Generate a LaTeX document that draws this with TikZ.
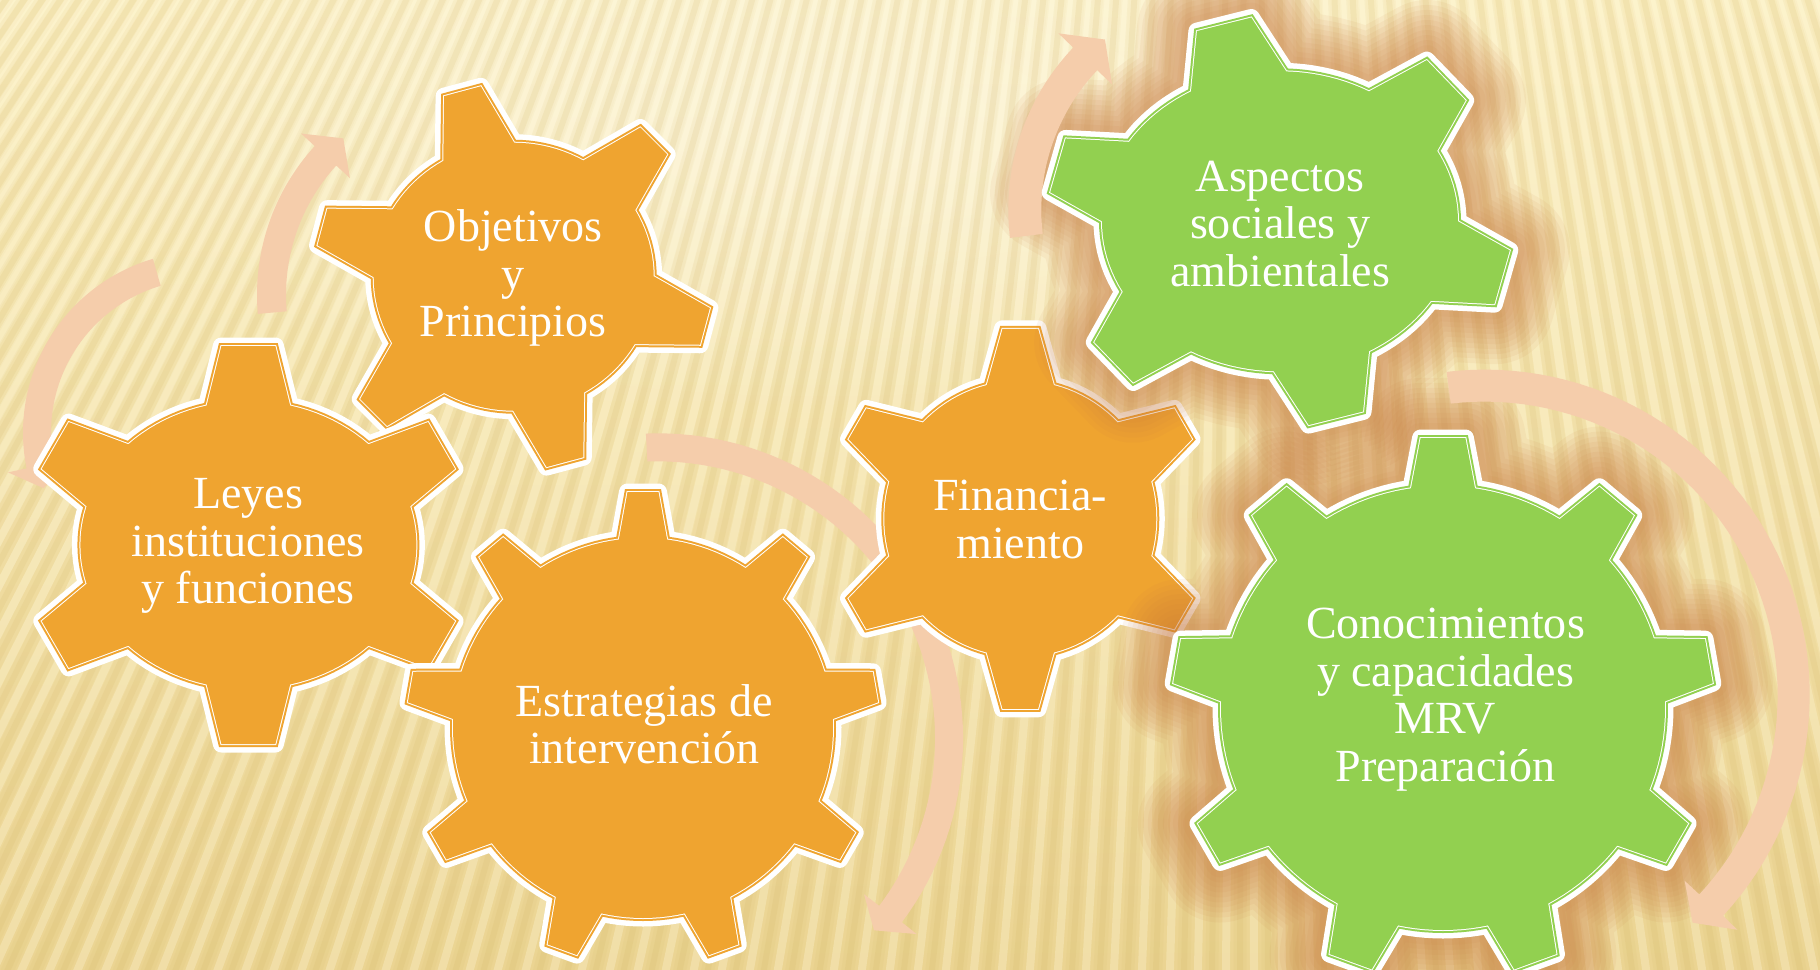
\documentclass[tikz,border=0pt]{standalone}
\usepackage{fontspec}
\setmainfont{Liberation Serif}
\usetikzlibrary{fadings}
\tikzfading[name=softspot, inner color=transparent!0, outer color=transparent!100]
\definecolor{gorange}{HTML}{EFA430}
\definecolor{ggreen}{HTML}{92D050}
\definecolor{arrowc}{HTML}{F5CDAB}
\definecolor{glowc}{HTML}{C97A40}
\definecolor{bgtop}{HTML}{FCF1C6}
\definecolor{bgbot}{HTML}{EBD492}
\definecolor{stripedark}{HTML}{D2B462}
\definecolor{stripelight}{HTML}{FFF8DA}
\newcommand\gfont{\fontsize{13.09pt}{13.5pt}\selectfont}
\tikzset{gtext/.style={text=white, align=center, font=\gfont, inner sep=0pt}}
% gear parameters: cx cy ax ay toothheight n phi0 delta tipwidth
\newcommand\setgear[9]{\def\gcx{#1}\def\gcy{#2}\def\gax{#3}\def\gay{#4}\def\gth{#5}\def\gn{#6}\def\gph{#7}\def\gdl{#8}\def\gtw{#9}}
\newcommand\gearpath[1]{%
  \pgfmathsetmacro\gdA{360/\gn}%
  \path[#1] ({\gcx+\gax*cos(\gph+\gdl)},{\gcy+\gay*sin(\gph+\gdl)})
    \foreach \k [evaluate=\k as \p using \gph+\k*\gdA] in {1,...,\gn}{
      \foreach \m in {1,...,10}{
        -- ({\gcx+\gax*cos(\p-\gdA+\gdl+(\gdA-2*\gdl)*\m/10)},{\gcy+\gay*sin(\p-\gdA+\gdl+(\gdA-2*\gdl)*\m/10)})
      }
      -- ({\gcx+(\gax+\gth)*cos(\p)+\gtw*sin(\p)},{\gcy+(\gay+\gth)*sin(\p)-\gtw*cos(\p)})
      -- ({\gcx+(\gax+\gth)*cos(\p)-\gtw*sin(\p)},{\gcy+(\gay+\gth)*sin(\p)+\gtw*cos(\p)})
      -- ({\gcx+\gax*cos(\p+\gdl)},{\gcy+\gay*sin(\p+\gdl)})
    } -- cycle;}
\newcommand\drawgear[1]{%
  \gearpath{draw=white, line width=0.17cm, line join=round}
  \gearpath{draw=#1, line width=0.06cm}
  \gearpath{draw=white, line width=0.02cm}
  \gearpath{fill=#1}}
\newcommand\drawglow{%
  \foreach \w in {1.2,1.1,1.0,0.9,0.8,0.7,0.6,0.5,0.4,0.3}{
    \gearpath{draw=glowc, line width=\w cm, draw opacity=0.075, line join=round}
  }}
% circular arrow: cx cy r w a0 a1 a2 h rt
\newcommand\carrow[9]{%
  \fill[arrowc] plot[domain=0:1,samples=60] ({#1+(#3+#4/2)*cos((#5)+((#6)-(#5))*\x)},{#2+(#3+#4/2)*sin((#5)+((#6)-(#5))*\x)})
    -- ({#1+(#3+#8)*cos(#6)},{#2+(#3+#8)*sin(#6)})
    -- ({#1+(#9)*cos(#7)},{#2+(#9)*sin(#7)})
    -- ({#1+(#3-#8)*cos(#6)},{#2+(#3-#8)*sin(#6)})
    -- plot[domain=0:1,samples=60] ({#1+(#3-#4/2)*cos((#6)+((#5)-(#6))*\x)},{#2+(#3-#4/2)*sin((#6)+((#5)-(#6))*\x)})
    -- cycle;}
\begin{document}
\begin{tikzpicture}[x=0.01cm,y=-0.01cm]
\useasboundingbox (0,0) rectangle (1820,969);
\begin{scope}
\clip (0,0) rectangle (1820,969);
% background
\shade[top color=bgtop, bottom color=bgbot] (0,0) rectangle (1820,969);
\fill[white, path fading=softspot, fill opacity=0.45] (820,120) ellipse (760 and 300);
% stripes converging towards a far point above
\foreach \i in {0,...,104}{
  \pgfmathsetmacro\xb{-720+28*\i}
  \pgfmathsetmacro\xt{1250+(\xb-1250)*0.64283}
  \pgfmathsetmacro\xbb{1250+(\xb-1250)*1.00758}
  \pgfmathsetmacro\xl{\xb+14}
  \pgfmathsetmacro\xlt{1250+(\xl-1250)*0.64283}
  \pgfmathsetmacro\xlb{1250+(\xl-1250)*1.00758}
  \draw[stripedark, line width=0.13cm, draw opacity=0.09] (\xt,-20) -- (\xbb,990);
  \draw[stripedark, line width=0.06cm, draw opacity=0.14] (\xt,-20) -- (\xbb,990);
  \draw[stripelight, line width=0.08cm, draw opacity=0.3] (\xlt,-20) -- (\xlb,990);
}
% set 1 arrows
\carrow{204}{432.5}{167}{28}{253.6}{168.5}{160.9}{33}{170}
\carrow{478}{295}{206.5}{29}{175.1}{222.4}{229.3}{33}{206.6}
\carrow{657.6}{738.8}{291.5}{28}{-92.2}{37}{41.5}{33}{289}
% set 1 gears
\setgear{513.7}{276.7}{140}{134}{58}{6}{-105}{15.2}{19}
\drawgear{gorange}
\setgear{248.4}{545}{168}{144}{55}{6}{-90}{14.4}{27}
\drawgear{gorange}
\setgear{643}{728}{190}{190}{46}{9}{-90}{7.3}{15.5}
\drawgear{gorange}
% set 2
\setgear{1020.3}{518.8}{136}{138}{52}{6}{-90}{14.3}{17.8}
\drawgear{gorange}
\setgear{1280}{221.3}{178}{150}{53}{6}{-104}{16}{28}
\drawglow
\setgear{1443}{708}{222}{222}{48}{9}{-90}{8.3}{22.4}
\drawglow
\carrow{1244}{210}{219.2}{33}{173.2}{223.6}{230.8}{37}{220}
\carrow{1484.5}{694.8}{309.2}{32}{-96.7}{42.9}{47.6}{36}{308.6}
\setgear{1280}{221.3}{178}{150}{53}{6}{-104}{16}{28}
\drawgear{ggreen}
\setgear{1443}{708}{222}{222}{48}{9}{-90}{8.3}{22.4}
\drawgear{ggreen}
\end{scope}
% texts
\node[gtext] (tO) at (513.3,278) {Objetivos\\y\\Principios};
\node[gtext] (tL) at (248,546) {Leyes\\instituciones\\y funciones};
\node[gtext] (tE) at (644.2,724) {Estrategias de\\intervención};
\node[gtext] (tF) at (1020.3,519.7) {Financia-\\miento};
\node[gtext] (tA) at (1280.2,224) {Aspectos\\sociales y\\ambientales};
\node[gtext] (tC) at (1445.5,699.7) {Conocimientos\\y capacidades\\MRV\\Preparación};
\end{tikzpicture}
\end{document}
